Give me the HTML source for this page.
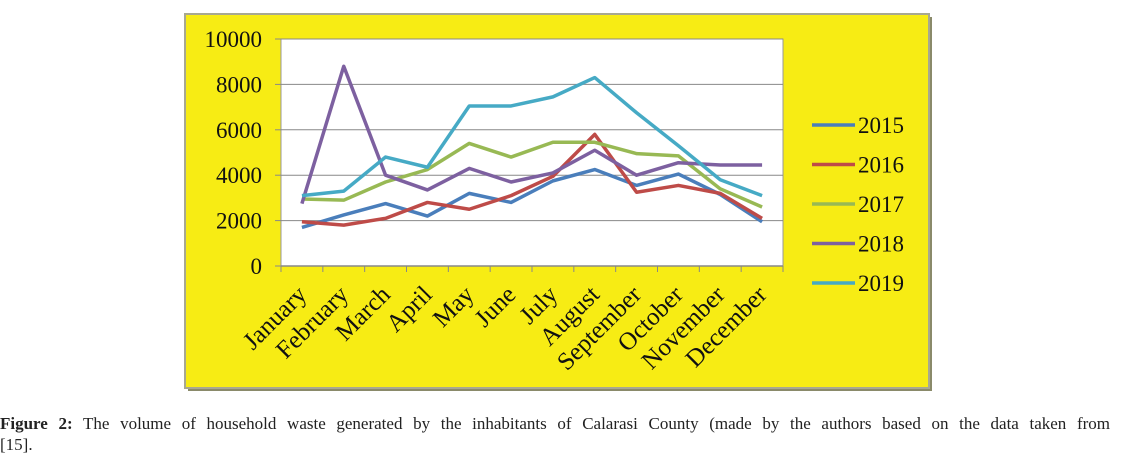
<!DOCTYPE html>
<html><head><meta charset="utf-8"><style>
body{margin:0;width:1134px;height:464px;background:#fff;overflow:hidden;font-family:"Liberation Serif",serif}
.cap{position:absolute;left:0;width:1110px;font-size:17px;line-height:21px;color:#222}
#cap1{top:413px;text-align:justify;text-align-last:justify}
#cap2{top:434px}
</style></head><body>
<svg id="chart" width="1134" height="410" style="position:absolute;left:0;top:0" font-family="Liberation Serif, serif"></svg>
<div id="cap1" class="cap"><b>Figure 2:</b> The volume of household waste generated by the inhabitants of Calarasi County (made by the authors based on the data taken from</div>
<div id="cap2" class="cap">[15].</div>
<script>
const months=["January","February","March","April","May","June","July","August","September","October","November","December"];
const yTicks=[0,2000,4000,6000,8000,10000];
const seriesNames=["2015","2016","2017","2018","2019"];
const seriesColors=["#4a7ebb","#be4b48","#98b954","#7d60a0","#46aac5"];
const s2015=[1700,2250,2750,2200,3200,2800,3750,4250,3550,4050,3150,1950];
const s2016=[1950,1800,2100,2800,2500,3100,3950,5800,3250,3550,3200,2100];
const s2017=[2950,2900,3700,4250,5400,4800,5450,5450,4950,4850,3400,2600];
const s2018=[2750,8800,4000,3350,4300,3700,4100,5100,4000,4550,4450,4450];
const s2019=[3100,3300,4800,4350,7050,7050,7450,8300,6750,5300,3800,3100];
const allSeries=[s2015,s2016,s2017,s2018,s2019];
const NS="http://www.w3.org/2000/svg";
const svg=document.getElementById('chart');
function el(t,a,p){const e=document.createElementNS(NS,t);for(const k in a)e.setAttribute(k,a[k]);(p||svg).appendChild(e);return e;}
const L=281,R=783,T=39,B=266;
const x=i=>L+(R-L)/12*(i+0.5);
const y=v=>B-(v/10000)*(B-T);
let e;
e=el('rect',{x:188,y:17,width:744,height:374,fill:'#8a8a6a'});


e=el('rect',{x:185,y:14,width:744,height:374,fill:'#f7ec14',stroke:'#a8a890','stroke-width':2});


e=el('rect',{x:L,y:T,width:R-L,height:B-T,fill:'#fff',stroke:'#999','stroke-width':1});


yTicks.forEach(v=>{
 if(v>0){e=el('line',{x1:L,x2:R,y1:y(v),y2:y(v),stroke:'#888','stroke-width':1});
 
 }
 e=el('line',{x1:L-6,x2:L,y1:y(v),y2:y(v),stroke:'#888'});
 
 
 e=el('text',{x:L-19,y:y(v)+8,'text-anchor':'end','font-size':23,fill:'#111'});
 e.textContent=v;
 
 
});
e=el('line',{x1:L,x2:R,y1:B,y2:B,stroke:'#888','stroke-width':1.5});


for(let i=0;i<=12;i++){e=el('line',{x1:L+(R-L)/12*i,x2:L+(R-L)/12*i,y1:B,y2:B+6,stroke:'#888'});
 
 }
months.forEach((m,i)=>{
 e=el('text',{x:0,y:0,'text-anchor':'end','font-size':25,fill:'#111',transform:`translate(${x(i)+6},${B+30}) rotate(-45)`});
 e.textContent=m;
 
 
});
allSeries.forEach((s,k)=>{
 e=el('polyline',{points:s.map((v,i)=>x(i)+','+y(v)).join(' '),fill:'none',stroke:seriesColors[k],'stroke-width':3.5,'stroke-linejoin':'round'});
 
 
 const ly=125+k*39.5;
 e=el('line',{x1:812,x2:855,y1:ly,y2:ly,stroke:seriesColors[k],'stroke-width':3.5});
 
 
 e=el('text',{x:858,y:ly+8,'font-size':23,fill:'#111'});
 e.textContent=seriesNames[k];
 
 
});
</script>
</body></html>
